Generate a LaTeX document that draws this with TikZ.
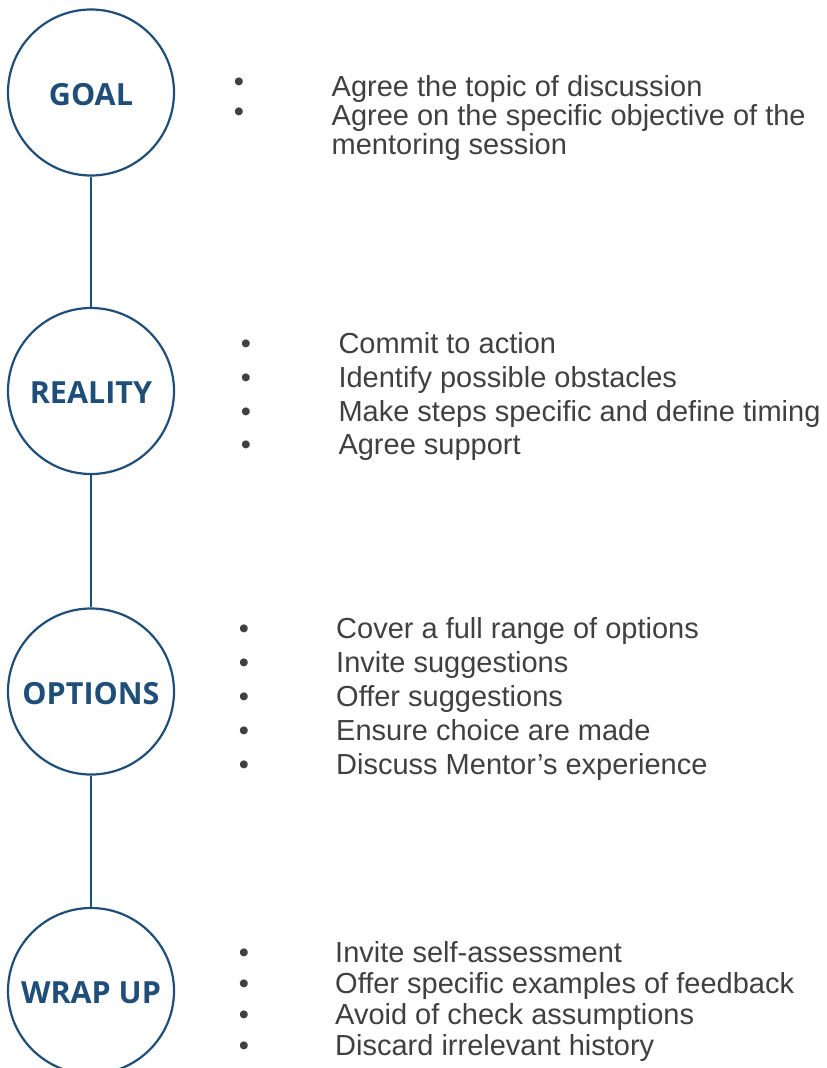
\documentclass[tikz,border=0pt]{standalone}
\usepackage{fontspec}
\setmainfont{Liberation Sans}
\newfontfamily\labelfont{Open Sans}
\definecolor{stageblue}{HTML}{1F4E79}
\definecolor{bodygray}{HTML}{404040}
\begin{document}
\begin{tikzpicture}[x=1pt,y=-1pt,
  stage/.style={circle, draw=stageblue, line width=2.2pt, minimum size=166pt,
    inner sep=0pt},
  stagetext/.style={inner sep=0pt, text=stageblue, yshift=-2pt,
    font=\labelfont\bfseries\fontsize{30.5}{30.5}\selectfont},
  link/.style={draw=stageblue, line width=1.2pt},
  item/.style={anchor=base west, inner sep=0pt, text=bodygray,
    font=\fontsize{29}{29}\selectfont},
  dot/.style={anchor=base, inner sep=0pt, text=bodygray,
    font=\fontsize{29}{29}\selectfont}]
\useasboundingbox (0,0) rectangle (827,1068);
\clip (0,0) rectangle (827,1068);

% stage circles with their titles
\node[stage, label={[stagetext]center:GOAL}]    (goal)    at (91,92.5)  {};
\node[stage, label={[stagetext]center:REALITY}] (reality) at (91,391)   {};
\node[stage, label={[stagetext]center:OPTIONS}] (options) at (91,691.5) {};
\node[stage, label={[stagetext]center:WRAP UP}] (wrapup)  at (91,991)   {};

% vertical connectors between stages
\draw[link] (goal) -- (reality);
\draw[link] (reality) -- (options);
\draw[link] (options) -- (wrapup);

% GOAL items
\node[dot]  (g1b) at (239,91)    {•};
\node[item] (g1)  at (331.5,96.5)  {Agree the topic of discussion};
\node[dot]  (g2b) at (239,121)   {•};
\node[item] (g2)  at (331.5,125.5) {Agree on the specific objective of the};
\node[item] (g3)  at (331.5,154.5) {mentoring session};

% REALITY items
\node[dot]  (r1b) at (246,353.5) {•};
\node[item] (r1)  at (338.3,353.5) {Commit to action};
\node[dot]  (r2b) at (246,387.5) {•};
\node[item] (r2)  at (338.3,387.5) {Identify possible obstacles};
\node[dot]  (r3b) at (246,421) {•};
\node[item] (r3)  at (338.3,421) {Make steps specific and define timing};
\node[dot]  (r4b) at (246,454) {•};
\node[item] (r4)  at (338.3,454) {Agree support};

% OPTIONS items
\node[dot]  (o1b) at (244,638.5) {•};
\node[item] (o1)  at (336,638.5) {Cover a full range of options};
\node[dot]  (o2b) at (244,672) {•};
\node[item] (o2)  at (336,672) {Invite suggestions};
\node[dot]  (o3b) at (244,706)   {•};
\node[item] (o3)  at (336,706)   {Offer suggestions};
\node[dot]  (o4b) at (244,740) {•};
\node[item] (o4)  at (336,740) {Ensure choice are made};
\node[dot]  (o5b) at (244,774.5) {•};
\node[item] (o5)  at (336,774.5) {Discuss Mentor’s experience};

% WRAP UP items
\node[dot]  (w1b) at (244,962.5)  {•};
\node[item] (w1)  at (335,962.5)  {Invite self-assessment};
\node[dot]  (w2b) at (244,993.5)  {•};
\node[item] (w2)  at (335,993.5)  {Offer specific examples of feedback};
\node[dot]  (w3b) at (244,1024)   {•};
\node[item] (w3)  at (335,1024)   {Avoid of check assumptions};
\node[dot]  (w4b) at (244,1055)   {•};
\node[item] (w4)  at (335,1055)   {Discard irrelevant history};
\end{tikzpicture}
\end{document}
